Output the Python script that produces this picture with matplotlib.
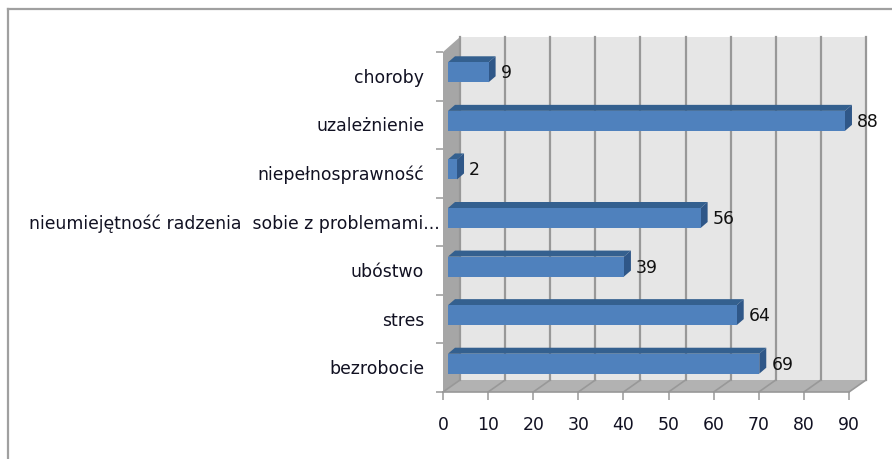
import matplotlib
matplotlib.use("Agg")
import matplotlib.pyplot as plt
from matplotlib.patches import Polygon

categories = ["bezrobocie", "stres", "ubóstwo",
              "nieumiejętność radzenia  sobie z problemami...",
              "niepełnosprawność", "uzależnienie", "choroby"]
values = [69, 64, 39, 56, 2, 88, 9]
x_ticks = list(range(0, 100, 10))

W, H = 892, 459
L, R, T, B = 443, 849, 52, 392
plt.rcParams["font.family"] = ["DejaVu Sans"]
fig = plt.figure(figsize=(W / 100, H / 100), dpi=100)
ax = fig.add_axes([L / W, 1 - B / H, (R - L) / W, (B - T) / H])
ax.set_xlim(0, 90)
ax.set_ylim(-0.5, len(categories) - 0.5)
ux = 90 / (R - L)   # data units per pixel
uy = len(categories) / (B - T)

# chart frame
for xs, ys in [((8, 8), (0, 0.98)), ((8, W), (0.98, 0.98))]:
    fig.add_artist(plt.Line2D([xs[0] / W, xs[1] / W], ys, color="#A0A0A0", lw=1.6))

ymin, ymax = -0.5, len(categories) - 0.5
dx, dyb, dyt = 17 * ux, 12 * uy, 15 * uy
GRID = "#989898"
def poly(pts, fc, ec="none", z=1, lw=0):
    ax.add_patch(Polygon(pts, closed=True, fc=fc, ec=ec, lw=lw, zorder=z, clip_on=False))

poly([(0, ymin), (dx, ymin + dyb), (dx, ymax + dyt), (0, ymax)], "#A6A6A6")
poly([(dx, ymin + dyb), (90 + dx, ymin + dyb), (90 + dx, ymax + dyt), (dx, ymax + dyt)], "#E6E6E6")
poly([(0, ymin), (90, ymin), (90 + dx, ymin + dyb), (dx, ymin + dyb)], "#B2B2B2")

for t in x_ticks:
    ax.plot([t + dx, t + dx], [ymin + dyb, ymax + dyt], color=GRID, lw=1.6, zorder=2, clip_on=False)
    ax.plot([t, t + dx], [ymin, ymin + dyb], color=GRID, lw=1.2, zorder=2, clip_on=False)
ax.plot([0, 90], [ymin, ymin], color=GRID, lw=1.2, zorder=2, clip_on=False)

# bars
ox, oy = 5 * ux, 4 * uy
sx, sy = 7 * ux, 6 * uy
hh = 10 * uy
for i, v in enumerate(values):
    x0, x1 = ox, ox + v
    y0, y1 = i + oy - hh, i + oy + hh
    poly([(x0, y1), (x1, y1), (x1 + sx, y1 + sy), (x0 + sx, y1 + sy)], "#34608F", z=3)
    poly([(x1, y0), (x1 + sx, y0 + sy), (x1 + sx, y1 + sy), (x1, y1)], "#2F5788", z=3)
    poly([(x0, y0), (x1, y0), (x1, y1), (x0, y1)], "#4F81BD", z=4)
    ax.text(x1 + 12 * ux, i + 3 * uy, str(v), ha="left", va="center", fontsize=12.4,
            color="#111111", zorder=5)

for s in ax.spines.values():
    s.set_visible(False)
ax.patch.set_visible(False)
ax.set_xticks(x_ticks)
ax.set_xticklabels([str(t) for t in x_ticks], fontsize=12.4, color="#111122")
ax.tick_params(axis="x", length=6, width=1.1, color=GRID, pad=11)
ax.set_yticks([i - 0.5 for i in range(len(categories) + 1)])
ax.set_yticklabels([""] * (len(categories) + 1))
ax.tick_params(axis="y", length=5, width=1.1, color=GRID)
for i, c in enumerate(categories):
    right = -3 * ux if len(c) > 30 else -19 * ux
    ax.text(right, i - 1.5 * uy, c, ha="right", va="center", fontsize=12.4, color="#111122")

fig.savefig("out.png", dpi=100, facecolor="white")
